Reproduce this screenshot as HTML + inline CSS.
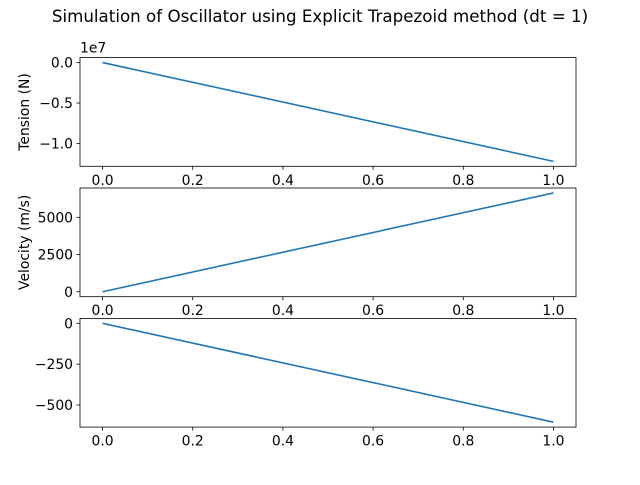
<!DOCTYPE html>
<html><head><meta charset="utf-8"><style>
html,body{margin:0;padding:0;background:#fff;}
svg text{font-family:"DejaVu Sans","Liberation Sans",sans-serif;fill:#000;}
</style></head><body>
<svg id="fig" width="640" height="480" xmlns="http://www.w3.org/2000/svg">
<rect width="640" height="480" fill="#fff"/>
<text x="320" y="22" font-size="16.7" text-anchor="middle">Simulation of Oscillator using Explicit Trapezoid method (dt = 1)</text>
</svg>
<script>
const xValues = [0, 1];
const tensionValues = [0, -1.22e7];
const velocityValues = [0, 6640];
const thirdValues = [0, -605];
const xTicks = [0, 0.2, 0.4, 0.6, 0.8, 1.0];
const xTickLabels = ["0.0", "0.2", "0.4", "0.6", "0.8", "1.0"];
const tensionTicks = [0, -0.5e7, -1.0e7];
const tensionTickLabels = ["0.0", "\u22120.5", "\u22121.0"];
const velocityTicks = [0, 2500, 5000];
const velocityTickLabels = ["0", "2500", "5000"];
const thirdTicks = [0, -250, -500];
const thirdTickLabels = ["0", "\u2212250", "\u2212500"];

const svg = document.getElementById('fig');
const NS = 'http://www.w3.org/2000/svg';
function mk(tag, attrs, parent) {
  const e = document.createElementNS(NS, tag);
  for (const k in attrs) e.setAttribute(k, attrs[k]);
  (parent || svg).appendChild(e);
  return e;
}
const L = 80, R = 576, H = 108.7, GAP = 21.7, TOP = 57.6, FS = 13.9;

function panel(idx, ys, yt, ytl, ylabel, name, offsetText) {
  const top = TOP + idx * (H + GAP), bot = top + H;
  const g = mk('g', {});
  
  
  const xmin = Math.min(...xValues), xmax = Math.max(...xValues);
  const xr = xmax - xmin;
  const x0 = xmin - 0.05 * xr, x1 = xmax + 0.05 * xr;
  const ymin = Math.min(...ys), ymax = Math.max(...ys), yr = ymax - ymin;
  const y0 = ymin - 0.05 * yr, y1 = ymax + 0.05 * yr;
  const sx = v => L + (v - x0) / (x1 - x0) * (R - L);
  const sy = v => bot - (v - y0) / (y1 - y0) * H;
  xTicks.forEach((t, i) => {
    const x = sx(t);
    const tk = mk('line', {x1: x, x2: x, y1: bot, y2: bot + 3.5, stroke: '#000', 'stroke-width': 0.8}, g);
    
    
    const tl = mk('text', {x: x, y: bot + 18.5, 'font-size': FS, 'text-anchor': 'middle'}, g);
    tl.textContent = xTickLabels[i];
    
    
  });
  yt.forEach((t, i) => {
    const y = sy(t);
    const tk = mk('line', {x1: L - 3.5, x2: L, y1: y, y2: y, stroke: '#000', 'stroke-width': 0.8}, g);
    
    
    const tl = mk('text', {x: L - 7, y: y + 5, 'font-size': FS, 'text-anchor': 'end'}, g);
    tl.textContent = ytl[i];
    
    
  });
  const pts = xValues.map((x, i) => sx(x) + ',' + sy(ys[i])).join(' ');
  const ln = mk('polyline', {points: pts, fill: 'none', stroke: '#1f77b4', 'stroke-width': 1.6}, g);
  
  
  const fr = mk('rect', {x: L, y: top, width: R - L, height: H, fill: 'none', stroke: '#000', 'stroke-width': 0.8}, g);
  
  
  if (ylabel) {
    const cy = (top + bot) / 2;
    const yl = mk('text', {x: 29, y: cy, 'font-size': FS, 'text-anchor': 'middle', transform: 'rotate(-90 29 ' + cy + ')'}, g);
    yl.textContent = ylabel;
    
    
  }
  if (offsetText) {
    const ot = mk('text', {x: L, y: top - 5, 'font-size': FS}, g);
    ot.textContent = offsetText;
    
    
  }
}
panel(0, tensionValues, tensionTicks, tensionTickLabels, 'Tension (N)', 'tension', '1e7');
panel(1, velocityValues, velocityTicks, velocityTickLabels, 'Velocity (m/s)', 'velocity', null);
panel(2, thirdValues, thirdTicks, thirdTickLabels, null, 'position', null);
</script>
</body></html>
